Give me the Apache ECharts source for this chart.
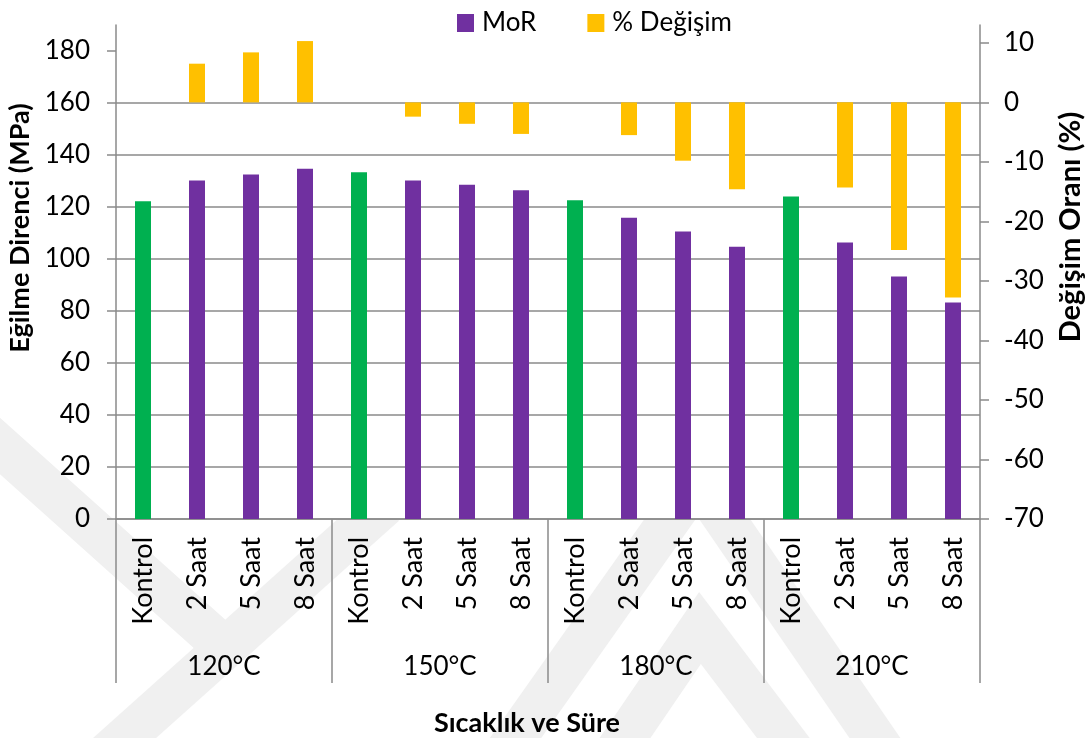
<!DOCTYPE html>
<html>
<head>
<meta charset="utf-8">
<script src="https://cdn.jsdelivr.net/npm/echarts@6/dist/echarts.min.js"></script>
<style>
  html, body { margin: 0; padding: 0; background: #fff; }
  #chart { width: 1088px; height: 738px; }
</style>
</head>
<body>
<div id="chart"></div>
<script>
// Temperature groups and treatment durations (two-level category axis)
const groups = ['120°C', '150°C', '180°C', '210°C'];
const durations = ['Kontrol', '2 Saat', '5 Saat', '8 Saat'];

// Modulus of rupture (MPa), one value per group × duration
const mor = [
  122.2, 130.2, 132.5, 134.7,
  133.4, 130.2, 128.6, 126.4,
  122.6, 115.9, 110.6, 104.7,
  124.0, 106.3, 93.3, 83.3
];

// Percent change relative to the group's control
const degisim = [
  null, 6.5, 8.4, 10.3,
  null, -2.4, -3.6, -5.3,
  null, -5.5, -9.8, -14.6,
  null, -14.3, -24.8, -32.8
];

// Axis tick labels
const leftTicks = [0, 20, 40, 60, 80, 100, 120, 140, 160, 180];
const rightTicks = [-70, -60, -50, -40, -30, -20, -10, 0, 10];

const FONT = 'Lato';
const GRAY = '#8a8a8a';
const PURPLE = '#7030A0';
const GREEN = '#00B050';
const GOLD = '#FFC000';
const SHADE = '#f0f0f0';

const categories = [];
groups.forEach(g => durations.forEach(d => categories.push(g + '|' + d)));

const morData = mor.map((v, i) => ({
  value: v,
  itemStyle: { color: categories[i].endsWith('Kontrol') ? GREEN : PURPLE }
}));

// Faint chevron bands in the page background
const band = pts => ({
  type: 'polyline',
  z: -10,
  silent: true,
  shape: { points: pts },
  style: { stroke: SHADE, lineWidth: 42, fill: null, lineJoin: 'miter' }
});

const chart = echarts.init(document.getElementById('chart'), null, { renderer: 'canvas' });

chart.setOption({
  animation: false,
  backgroundColor: '#fff',
  textStyle: { fontFamily: FONT },
  graphic: [
    band([[-20, 428], [222, 645]]),
    band([[100, 760], [385, 505]]),
    band([[500, 760], [680, 505]]),
    band([[715, 505], [890, 760]]),
    band([[610, 760], [700, 628], [800, 760]])
  ],
  legend: {
    left: 457,
    top: 10,
    padding: 0,
    icon: 'rect',
    itemWidth: 17,
    itemHeight: 18,
    itemGap: 51,
    textStyle: { fontFamily: FONT, fontSize: 26, color: '#000', padding: [0, 0, 0, 3] },
    data: ['MoR', '% Değişim']
  },
  grid: {
    left: 116, right: 108, top: 25, bottom: 219,
    show: true, backgroundColor: '#fff', borderWidth: 0,
    containLabel: false,
    outerBoundsMode: 'none'
  },
  xAxis: [
    {
      type: 'category',
      data: categories,
      axisLine: { show: true, onZero: false, lineStyle: { color: GRAY, width: 1.5 } },
      axisTick: { show: false },
      axisLabel: {
        interval: 0,
        rotate: 90,
        margin: 18,
        fontFamily: FONT,
        fontSize: 27,
        color: '#000',
        formatter: v => v.split('|')[1]
      }
    },
    {
      type: 'category',
      data: groups,
      position: 'bottom',
      axisLine: { show: false, onZero: false },
      axisTick: { show: true, interval: 0, length: 164, lineStyle: { color: GRAY, width: 1.5 } },
      axisLabel: { interval: 0, margin: 135, fontFamily: FONT, fontSize: 26, color: '#000' },
      name: 'Sıcaklık ve Süre',
      nameLocation: 'middle',
      nameGap: 191,
      nameTextStyle: { fontFamily: FONT, fontSize: 27, fontWeight: 'bold', color: '#000', padding: [0, 42, 0, 0] }
    }
  ],
  yAxis: [
    {
      type: 'value',
      min: 0,
      max: 190,
      interval: 20,
      axisLine: { show: true, lineStyle: { color: GRAY, width: 1.5 } },
      axisTick: { show: true, length: 9, customValues: leftTicks, lineStyle: { color: GRAY, width: 1.5 } },
      axisLabel: { customValues: leftTicks, margin: 26, fontFamily: FONT, fontSize: 26, color: '#000' },
      splitLine: { show: true, showMaxLine: false, lineStyle: { color: GRAY, width: 1.5 } },
      name: 'Eğilme Direnci (MPa)',
      nameLocation: 'middle',
      nameRotate: 90,
      nameGap: 80,
      nameTextStyle: { fontFamily: FONT, fontSize: 27, fontWeight: 'bold', color: '#000', padding: [0, 0, 0, 88] }
    },
    {
      type: 'value',
      min: -70,
      max: 13,
      interval: 10,
      position: 'right',
      axisLine: { show: true, lineStyle: { color: GRAY, width: 1.5 } },
      axisTick: { show: true, length: 9, customValues: rightTicks, lineStyle: { color: GRAY, width: 1.5 } },
      axisLabel: { customValues: rightTicks, margin: 24, fontFamily: FONT, fontSize: 26, color: '#000' },
      splitLine: { show: false },
      name: 'Değişim Oranı (%)',
      nameLocation: 'middle',
      nameRotate: 90,
      nameGap: 76,
      nameTextStyle: { fontFamily: FONT, fontSize: 29, fontWeight: 'bold', color: '#000', padding: [0, 0, 0, 90] }
    }
  ],
  series: [
    {
      name: 'MoR',
      type: 'bar',
      xAxisIndex: 0,
      yAxisIndex: 0,
      barWidth: 16,
      barGap: '-100%',
      itemStyle: { color: PURPLE },
      data: morData
    },
    {
      name: '% Değişim',
      type: 'bar',
      xAxisIndex: 0,
      yAxisIndex: 1,
      barWidth: 16,
      barGap: '-100%',
      itemStyle: { color: GOLD },
      data: degisim
    }
  ]
});
</script>
</body>
</html>
